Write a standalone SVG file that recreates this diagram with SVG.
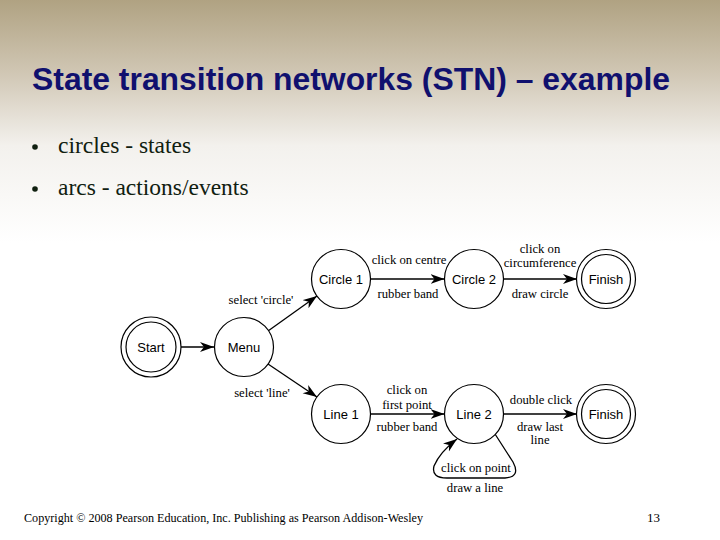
<svg xmlns="http://www.w3.org/2000/svg" width="720" height="540" viewBox="0 0 720 540">
<defs>
<linearGradient id="bg" x1="0" y1="0" x2="0" y2="540" gradientUnits="userSpaceOnUse">
<stop offset="0" stop-color="#b0a282"/>
<stop offset="0.13" stop-color="#cfc5b2"/>
<stop offset="0.27" stop-color="#f3f1ed"/>
<stop offset="0.45" stop-color="#ffffff"/>
<stop offset="1" stop-color="#ffffff"/>
</linearGradient>
<marker id="arr" markerWidth="15" markerHeight="11" refX="14" refY="5.5" orient="auto" markerUnits="userSpaceOnUse">
<path d="M0,0.5 L14,5.5 L0,10.5 L4,5.5 Z" fill="#000"/>
</marker>
<style>
.st{fill:#fff;stroke:#000;stroke-width:1.2}
.nl{font-family:"Liberation Sans",Arial,sans-serif;font-size:13px;text-anchor:middle;fill:#000}
.el{font-family:"Liberation Serif","Times New Roman",serif;font-size:12.7px;text-anchor:middle;fill:#000}
.cn{fill:none;stroke:#000;stroke-width:1.3}
</style>
</defs>
<rect x="0" y="0" width="720" height="540" fill="url(#bg)"/>
<text x="32" y="90" font-family="'Liberation Sans',Arial,sans-serif" font-weight="bold" font-size="31" fill="#10106e" textLength="638" lengthAdjust="spacingAndGlyphs">State transition networks (STN) – example</text>
<g font-family="'Liberation Serif','Times New Roman',serif" font-size="23.5" fill="#102010">
<circle cx="35" cy="147" r="2.8" fill="#102010"/>
<text x="58" y="153">circles - states</text>
<circle cx="35" cy="189" r="2.8" fill="#102010"/>
<text x="58" y="195">arcs - actions/events</text>
</g>
<g id="connectors">
<line class="cn" x1="181" y1="347" x2="214" y2="347" marker-end="url(#arr)"/>
<line class="cn" x1="268" y1="331" x2="317" y2="296" marker-end="url(#arr)"/>
<line class="cn" x1="268" y1="364" x2="317" y2="397" marker-end="url(#arr)"/>
<line class="cn" x1="371" y1="279" x2="444.5" y2="279" marker-end="url(#arr)"/>
<line class="cn" x1="504" y1="279" x2="577" y2="279" marker-end="url(#arr)"/>
<line class="cn" x1="371" y1="414" x2="444.5" y2="414" marker-end="url(#arr)"/>
<line class="cn" x1="504" y1="414" x2="577" y2="414" marker-end="url(#arr)"/>
<path class="cn" d="M495,434 L513,462 Q521,477 505,478 L447,478 Q431,478 434,466 Q440,452 457,439" marker-end="url(#arr)"/>
<text class="el" x="261" y="304">select 'circle'</text>
<text class="el" x="262" y="397">select 'line'</text>
<text class="el" x="409" y="264">click on centre</text>
<text class="el" x="408" y="298">rubber band</text>
<text class="el" x="540" y="253">click on</text>
<text class="el" x="540" y="267">circumference</text>
<text class="el" x="540" y="298">draw circle</text>
<text class="el" x="407" y="394">click on</text>
<text class="el" x="407" y="409">first point</text>
<text class="el" x="407" y="431">rubber band</text>
<text class="el" x="541" y="404">double click</text>
<text class="el" x="540" y="431">draw last</text>
<text class="el" x="540" y="444">line</text>
<text class="el" x="476" y="472">click on point</text>
<text class="el" x="475" y="492">draw a line</text>
</g>
<g id="start"><circle class="st" cx="151" cy="347" r="30"/><circle class="st" cx="151" cy="347" r="25"/><text class="nl" x="151" y="351.5">Start</text></g>
<g id="menu"><circle class="st" cx="244" cy="347" r="29.5"/><text class="nl" x="244" y="351.5">Menu</text></g>
<g id="circle1"><circle class="st" cx="341" cy="279" r="29.5"/><text class="nl" x="341" y="283.5">Circle 1</text></g>
<g id="circle2"><circle class="st" cx="474" cy="279" r="29.5"/><text class="nl" x="474" y="283.5">Circle 2</text></g>
<g id="finish1"><circle class="st" cx="606" cy="279" r="29.5"/><circle class="st" cx="606" cy="279" r="24.5"/><text class="nl" x="606" y="283.5">Finish</text></g>
<g id="line1"><circle class="st" cx="341" cy="414" r="29.5"/><text class="nl" x="341" y="418.5">Line 1</text></g>
<g id="line2"><circle class="st" cx="474" cy="414" r="29.5"/><text class="nl" x="474" y="418.5">Line 2</text></g>
<g id="finish2"><circle class="st" cx="606" cy="414" r="29.5"/><circle class="st" cx="606" cy="414" r="24.5"/><text class="nl" x="606" y="418.5">Finish</text></g>
<text x="24" y="522" font-family="'Liberation Serif','Times New Roman',serif" font-size="12.5" fill="#000" textLength="399" lengthAdjust="spacingAndGlyphs">Copyright © 2008 Pearson Education, Inc. Publishing as Pearson Addison-Wesley</text>
<text x="647" y="522" font-family="'Liberation Serif','Times New Roman',serif" font-size="13" fill="#000">13</text>
</svg>
